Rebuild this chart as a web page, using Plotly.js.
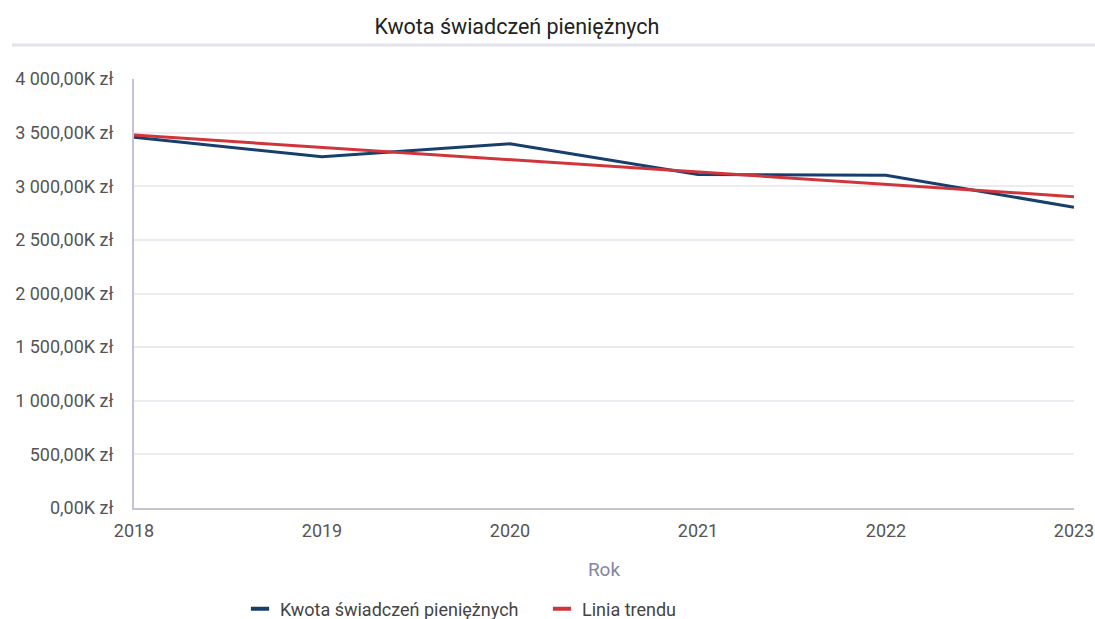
<!DOCTYPE html>
<html>
<head>
<meta charset="utf-8">
<script src="https://cdn.plot.ly/plotly-3.0.1.min.js"></script>
<style>
html,body{margin:0;padding:0;background:#fff;}
#chart{width:1095px;height:619px;}
</style>
</head>
<body>
<div id="chart"></div>
<script>
const years = [2018, 2019, 2020, 2021, 2022, 2023];
const amounts = [3457, 3274, 3396, 3109, 3103, 2804];
const trendYears = [2018, 2023];
const trendValues = [3477, 2903];
const yTickVals = [0, 500, 1000, 1500, 2000, 2500, 3000, 3500, 4000];
const yTickText = ["0,00K zł", "500,00K zł", "1 000,00K zł", "1 500,00K zł", "2 000,00K zł", "2 500,00K zł", "3 000,00K zł", "3 500,00K zł", "4 000,00K zł"];
const xTickVals = [2018, 2019, 2020, 2021, 2022, 2023];
const xTickText = ["2018", "2019", "2020", "2021", "2022", "2023"];
const seriesNames = ['Kwota świadczeń pieniężnych', 'Linia trendu'];
const seriesColors = ['#173f6d', '#d1353c'];

const FONT = 'Roboto, "Open Sans", "Noto Sans", sans-serif';

const data = [
  {
    x: years, y: amounts, type: 'scatter', mode: 'lines',
    name: seriesNames[0], showlegend: false,
    line: {color: seriesColors[0], width: 3},
    hoverinfo: 'none'
  },
  {
    x: trendYears, y: trendValues, type: 'scatter', mode: 'lines',
    name: seriesNames[1], showlegend: false,
    line: {color: seriesColors[1], width: 3},
    hoverinfo: 'none'
  },
  {
    x: [null], y: [null], type: 'scatter', mode: 'markers',
    name: seriesNames[0],
    marker: {symbol: 'line-ew-open', size: 13, color: seriesColors[0], line: {color: seriesColors[0], width: 4}}
  },
  {
    x: [null], y: [null], type: 'scatter', mode: 'markers',
    name: seriesNames[1],
    marker: {symbol: 'line-ew-open', size: 13, color: seriesColors[1], line: {color: seriesColors[1], width: 4}}
  }
];

const layout = {
  width: 1095, height: 619,
  paper_bgcolor: '#ffffff', plot_bgcolor: '#ffffff',
  margin: {l: 134, r: 21, t: 79, b: 111},
  font: {family: FONT, size: 18, color: '#555555'},
  title: {
    text: 'Kwota świadczeń pieniężnych',
    font: {family: FONT, size: 21.5, color: '#222222'},
    x: 517 / 1095, xanchor: 'center', xref: 'container',
    y: 1 - 26 / 619, yanchor: 'middle', yref: 'container'
  },
  xaxis: {
    range: [2018, 2023],
    tickvals: xTickVals, ticktext: xTickText,
    showgrid: false, zeroline: false,
    showline: true, linecolor: '#c4c4d6', linewidth: 2,
    ticks: 'outside', ticklen: 5, tickcolor: 'rgba(0,0,0,0)',
    tickfont: {family: FONT, size: 18, color: '#555555'},
    title: {text: 'Rok', font: {family: FONT, size: 19, color: '#8585a6'}, standoff: 23}
  },
  yaxis: {
    range: [0, 4000],
    tickvals: yTickVals, ticktext: yTickText,
    showgrid: true, gridcolor: '#ebebf1', gridwidth: 2,
    zeroline: false,
    showline: true, linecolor: '#c4c4d6', linewidth: 2,
    ticks: 'outside', ticklen: 15, tickcolor: 'rgba(0,0,0,0)',
    tickfont: {family: FONT, size: 18, color: '#555555'}
  },
  showlegend: true,
  legend: {
    orientation: 'h',
    xref: 'container', yref: 'container',
    x: 240 / 1095, xanchor: 'left',
    y: 1 - 609 / 619, yanchor: 'middle',
    font: {family: FONT, size: 18, color: '#444444'},
    itemwidth: 30,
    entrywidth: 257,
    bgcolor: 'rgba(0,0,0,0)'
  },
  shapes: [
    {
      type: 'line', xref: 'paper', yref: 'paper',
      x0: (12 - 134) / 940, x1: (1095 - 134) / 940,
      y0: (508 - 45) / 429, y1: (508 - 45) / 429,
      line: {color: '#e2e2ec', width: 3}
    }
  ]
};

Plotly.newPlot('chart', data, layout, {staticPlot: true, displayModeBar: false});
</script>
</body>
</html>
